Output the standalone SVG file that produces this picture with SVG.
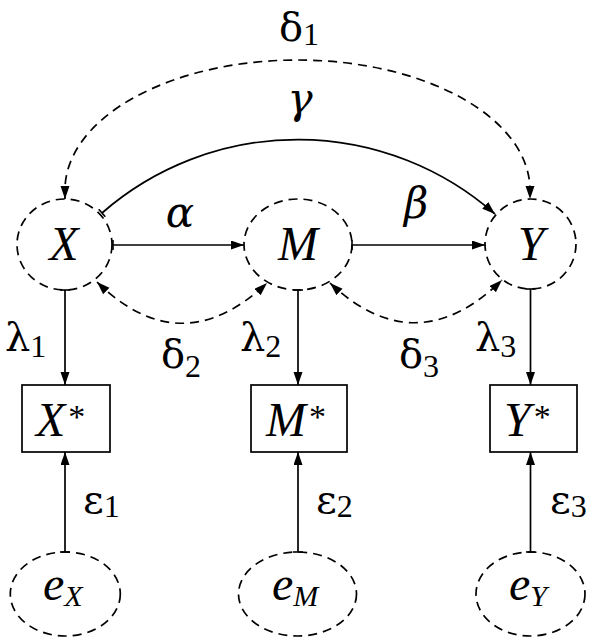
<svg xmlns="http://www.w3.org/2000/svg" width="591" height="642" viewBox="0 0 591 642">
<defs>
<style>
.bg{fill:#fff}
.lat{fill:none;stroke:#000;stroke-width:1.7;stroke-dasharray:9 6}
.box{fill:none;stroke:#000;stroke-width:1.7}
.c{fill:none;stroke:#000;stroke-width:1.7}
.cd{fill:none;stroke:#000;stroke-width:1.7;stroke-dasharray:9 6}
.a{marker-end:url(#arr)}
.t{marker-start:url(#tee)}
.b{marker-start:url(#arr);marker-end:url(#arr)}
text{fill:#000}
.m{font-family:"Liberation Serif","Times New Roman",serif;font-size:48px;font-style:italic}
.g{font-family:"DejaVu Serif","Liberation Serif",serif;font-size:40px}
.gi{font-family:"DejaVu Serif","Liberation Serif",serif;font-size:42px;font-style:italic}
.s{font-family:"Liberation Serif","Times New Roman",serif;font-size:32px;font-style:normal}
.si{font-family:"Liberation Serif","Times New Roman",serif;font-size:30px;font-style:italic}
.st{font-family:"Liberation Serif","Times New Roman",serif;font-size:34px;font-style:normal}
</style>
<marker id="arr" markerUnits="userSpaceOnUse" markerWidth="14" markerHeight="10" refX="13" refY="4.5" orient="auto-start-reverse"><path d="M0,0 L13,4.5 L0,9 Z" fill="#000"/></marker>
<marker id="tee" markerUnits="userSpaceOnUse" markerWidth="3" markerHeight="10" refX="1.5" refY="5" orient="auto"><path d="M1.5,0 L1.5,10" stroke="#000" stroke-width="1.6"/></marker>
</defs>
<rect class="bg" x="0" y="0" width="591" height="642"/>
<g id="connectors">
<path class="cd b" d="M65,199 L65,190 A232.5,130 0 0 1 530,190 L530,199"/>
<path class="c t a" d="M102,213 A298,298 0 0 1 495,214"/>
<path class="c t a" d="M113,245 L244,245"/>
<path class="c t a" d="M352,245 L485,245"/>
<path class="cd b" d="M97,282 Q181,364 267,283"/>
<path class="cd b" d="M330,283 Q416,364 502,280"/>
<path class="c t a" d="M65,290 L65,385"/>
<path class="c t a" d="M298,290 L298,385"/>
<path class="c t a" d="M530.5,289 L530.5,385"/>
<path class="c t a" d="M65,552 L65,452"/>
<path class="c t a" d="M298,552 L298,452"/>
<path class="c t a" d="M530.5,552 L530.5,452"/>
</g>
<g id="labels">
<text class="g" x="279" y="41">δ<tspan class="s" dy="4">1</tspan></text>
<text class="gi" x="300" y="113" text-anchor="middle">γ</text>
<text class="gi" x="180" y="227" text-anchor="middle">α</text>
<text class="gi" x="404" y="218">β</text>
<text class="g" x="5" y="351">λ<tspan class="s" dy="6">1</tspan></text>
<text class="g" x="240" y="351">λ<tspan class="s" dy="6">2</tspan></text>
<text class="g" x="475" y="351">λ<tspan class="s" dy="6">3</tspan></text>
<text class="g" x="161" y="368">δ<tspan class="s" dy="9">2</tspan></text>
<text class="g" x="399" y="368">δ<tspan class="s" dy="9">3</tspan></text>
<text class="g" x="83" y="513">ε<tspan class="s" dy="4">1</tspan></text>
<text class="g" x="316" y="513">ε<tspan class="s" dy="4">2</tspan></text>
<text class="g" x="550" y="513">ε<tspan class="s" dy="4">3</tspan></text>
</g>
<g id="node-X"><ellipse class="lat" cx="64.5" cy="244.5" rx="47.5" ry="45.5"/><text class="m" x="64" y="260" text-anchor="middle">X</text></g>
<g id="node-M"><ellipse class="lat" cx="298" cy="244.5" rx="54" ry="45.5"/><text class="m" x="298" y="260" text-anchor="middle">M</text></g>
<g id="node-Y"><ellipse class="lat" cx="530.5" cy="244" rx="45.5" ry="45"/><text class="m" x="531" y="260" text-anchor="middle">Y</text></g>
<g id="node-Xs"><rect class="box" x="22" y="385" width="88" height="67"/><text class="m" x="36" y="436">X<tspan class="st" dx="3" dy="-8">*</tspan></text></g>
<g id="node-Ms"><rect class="box" x="251" y="385" width="96" height="67"/><text class="m" x="266" y="436">M<tspan class="st" dx="3" dy="-8">*</tspan></text></g>
<g id="node-Ys"><rect class="box" x="490" y="385" width="87" height="67"/><text class="m" x="504" y="436">Y<tspan class="st" dx="3" dy="-8">*</tspan></text></g>
<g id="node-eX"><ellipse class="lat" cx="65.3" cy="594" rx="55" ry="42"/><text class="m" x="43" y="600">e<tspan class="si" dy="6">X</tspan></text></g>
<g id="node-eM"><ellipse class="lat" cx="297.5" cy="594" rx="59" ry="42"/><text class="m" x="272" y="600">e<tspan class="si" dy="6">M</tspan></text></g>
<g id="node-eY"><ellipse class="lat" cx="530.5" cy="594" rx="54.5" ry="42"/><text class="m" x="509" y="600">e<tspan class="si" dy="6">Y</tspan></text></g>
</svg>
